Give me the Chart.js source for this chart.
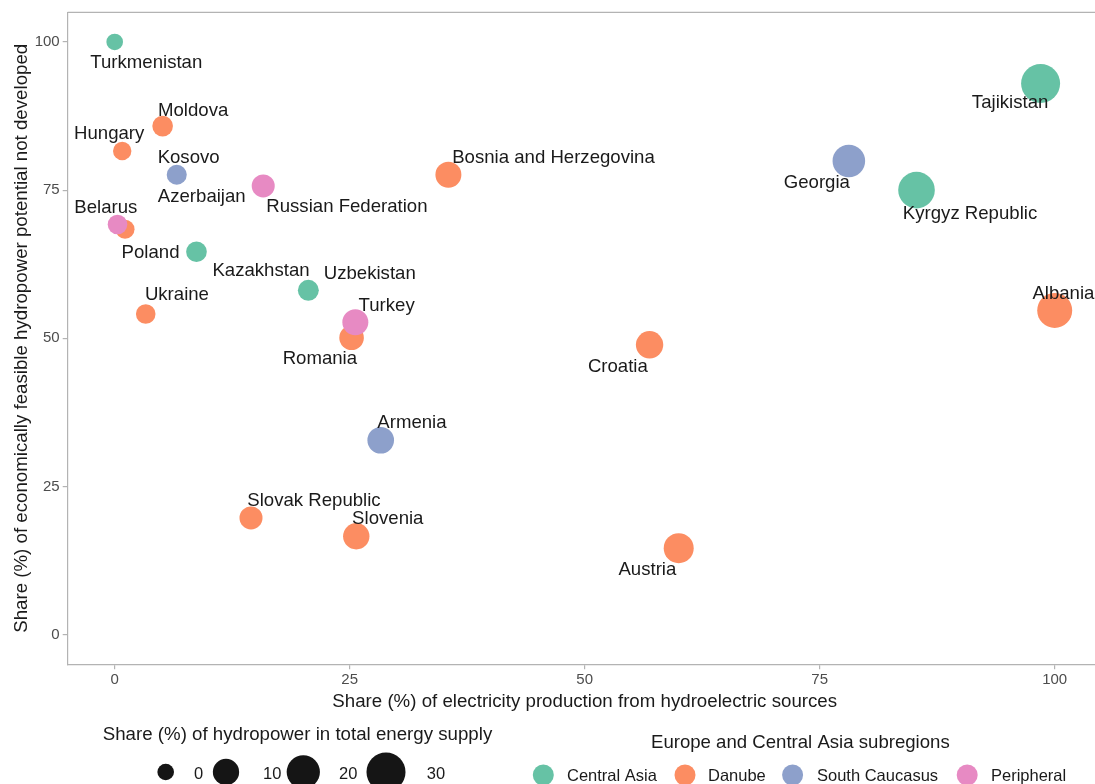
<!DOCTYPE html>
<html>
<head>
<meta charset="utf-8">
<script src="https://cdn.jsdelivr.net/npm/chart.js@4"></script>
<style>
  html, body { margin: 0; padding: 0; overflow: hidden; background: #fff; }
  #wrap { position: relative; width: 1105px; height: 784px; }
</style>
</head>
<body>
<div id="wrap"><canvas id="hydro"></canvas></div>
<script>
// data
const countries = ['Turkmenistan', 'Moldova', 'Hungary', 'Kosovo', 'Azerbaijan', 'Russian Federation',
  'Bosnia and Herzegovina', 'Poland', 'Belarus', 'Kazakhstan', 'Uzbekistan', 'Ukraine', 'Romania',
  'Turkey', 'Croatia', 'Albania', 'Armenia', 'Slovak Republic', 'Slovenia', 'Austria', 'Tajikistan',
  'Georgia', 'Kyrgyz Republic'];
const regions = ['Central Asia', 'Danube', 'Danube', 'Danube', 'South Caucasus', 'Peripheral',
  'Danube', 'Danube', 'Peripheral', 'Central Asia', 'Central Asia', 'Danube', 'Danube',
  'Peripheral', 'Danube', 'Danube', 'South Caucasus', 'Danube', 'Danube', 'Danube', 'Central Asia',
  'South Caucasus', 'Central Asia'];
// x: share of electricity production from hydro
const elecFromHydro = [0.0, 5.1, 0.8, 6.6, 6.6, 15.8, 35.5, 1.1, 0.3, 8.7, 20.6, 3.3, 25.2,
  25.6, 56.9, 100.0, 28.3, 14.5, 25.7, 60.0, 98.5, 78.1, 85.3];
// y: share of economically feasible potential not developed
const notDeveloped = [100.0, 85.8, 81.6, 77.6, 77.6, 75.7, 77.6, 68.4, 69.2, 64.6, 58.1, 54.1, 50.1,
  52.7, 48.9, 54.7, 32.8, 19.7, 16.6, 14.6, 93.0, 79.9, 75.0];
// size: share of hydropower in total energy supply (Kosovo has no value)
const supplyShare = [0, 3.6, 1.5, null, 3.0, 6.1, 9.6, 2.0, 2.6, 3.6, 3.9, 2.6, 7.9,
  9.6, 11.4, 22.8, 10.4, 6.1, 10.1, 15.0, 29.9, 18.9, 25.6];

const regionNames = ['Central Asia', 'Danube', 'South Caucasus', 'Peripheral'];
const regionColors = ['#66c2a5', '#fc8d62', '#8da0cb', '#e78ac3'];
const axisTicks = [0, 25, 50, 75, 100];
const sizeBreaks = [0, 10, 20, 30];

// label placement (pixels from the point, text centre)
const labelOffsets = {
  'Turkmenistan': [31.6, 19.4], 'Moldova': [30.5, -17.3], 'Hungary': [-13, -18.2],
  'Kosovo': [11.9, -18.8], 'Azerbaijan': [25, 20.4], 'Russian Federation': [83.7, 19.7],
  'Bosnia and Herzegovina': [105.1, -18.9], 'Poland': [25.5, 22.3], 'Belarus': [-11.7, -18.3],
  'Kazakhstan': [64.5, 18], 'Uzbekistan': [61.4, -17.8], 'Ukraine': [31.2, -20.6],
  'Romania': [-31.7, 19.5], 'Turkey': [31.3, -18.1], 'Croatia': [-31.7, 20.6],
  'Albania': [8.7, -18.3], 'Armenia': [31.2, -19], 'Slovak Republic': [63, -18.8],
  'Slovenia': [31.5, -19.3], 'Austria': [-31.3, 20.3], 'Tajikistan': [-30.5, 18.2],
  'Georgia': [-32, 20.3], 'Kyrgyz Republic': [53.5, 21.7]
};

const FONT = '"Liberation Sans", Arial, sans-serif';
const INK = '#1a1a1a';
const GRID = '#b3b3b3';

// area scale for bubbles
const sizeToRadius = (s) => (s === null ? 0 : Math.sqrt(69 + 10.4 * s));
const colorOf = (r) => regionColors[regionNames.indexOf(r)];

const points = countries.map((c, i) => ({
  x: elecFromHydro[i],
  y: notDeveloped[i],
  r: sizeToRadius(supplyShare[i])
}));

const extras = {
  id: 'extras',
  afterDatasetsDraw(chart) {
    const ctx = chart.ctx;
    const area = chart.chartArea;
    const meta = chart.getDatasetMeta(0);
    ctx.save();

    // remaining panel border
    ctx.strokeStyle = GRID;
    ctx.lineWidth = 1.2;
    ctx.beginPath();
    ctx.moveTo(area.left, area.top);
    ctx.lineTo(area.right, area.top);
    ctx.lineTo(area.right, area.bottom);
    ctx.stroke();

    // country labels
    ctx.font = '18.6px ' + FONT;
    ctx.fillStyle = INK;
    ctx.textAlign = 'center';
    ctx.textBaseline = 'alphabetic';
    countries.forEach((name, i) => {
      const el = meta.data[i];
      const off = labelOffsets[name];
      ctx.fillText(name, el.x + off[0], el.y + off[1] + 6.7);
    });

    // axis titles
    ctx.font = '18.7px ' + FONT;
    ctx.fillText('Share (%) of electricity production from hydroelectric sources',
      (area.left + area.right) / 2, 706.7);
    ctx.save();
    ctx.translate(26.7, (area.top + area.bottom) / 2);
    ctx.rotate(-Math.PI / 2);
    ctx.fillText('Share (%) of economically feasible hydropower potential not developed', 0, 0);
    ctx.restore();

    // size legend
    ctx.fillText('Share (%) of hydropower in total energy supply', 297.5, 740);
    const sizeKeyX = [165.7, 226, 303.3, 386];
    const sizeLabelX = [194, 263, 339, 426.7];
    ctx.textAlign = 'left';
    sizeBreaks.forEach((b, i) => {
      ctx.fillStyle = '#151515';
      ctx.beginPath();
      ctx.arc(sizeKeyX[i], 772, sizeToRadius(b), 0, Math.PI * 2);
      ctx.fill();
      ctx.fillStyle = INK;
      ctx.font = '16.5px ' + FONT;
      ctx.fillText(String(b), sizeLabelX[i], 779.3);
    });

    // region legend
    ctx.font = '18.6px ' + FONT;
    ctx.fillText('Europe and Central Asia subregions', 651, 747.7);
    const regKeyX = [543.3, 685, 792.6, 967.2];
    const regLabelX = [567, 708, 817, 991];
    regionNames.forEach((r, i) => {
      ctx.fillStyle = regionColors[i];
      ctx.beginPath();
      ctx.arc(regKeyX[i], 775, 10.5, 0, Math.PI * 2);
      ctx.fill();
      ctx.fillStyle = INK;
      ctx.font = '16.5px ' + FONT;
      ctx.fillText(r, regLabelX[i], 780.7);
    });

    ctx.restore();
  }
};

const noPad = (scale) => {
  scale.paddingTop = 0;
  scale.paddingBottom = 0;
  scale.paddingLeft = 0;
  scale.paddingRight = 0;
};

const axisCommon = {
  type: 'linear',
  min: -5,
  max: 105,
  afterBuildTicks: (scale) => { scale.ticks = axisTicks.map((v) => ({ value: v })); },
  grid: { drawOnChartArea: false, drawTicks: true, tickLength: 5, color: GRID, lineWidth: 1.2 },
  border: { display: true, color: GRID, width: 1.2 },
  title: { display: false }
};

new Chart(document.getElementById('hydro'), {
  type: 'bubble',
  data: {
    datasets: [{
      data: points,
      backgroundColor: regions.map(colorOf),
      borderWidth: 0,
      hoverBorderWidth: 0
    }]
  },
  options: {
    responsive: true,
    maintainAspectRatio: false,
    devicePixelRatio: 1,
    animation: false,
    events: [],
    layout: { autoPadding: false, padding: { top: 12.3, right: 3.3, left: 0, bottom: 0 } },
    plugins: { legend: { display: false }, tooltip: { enabled: false } },
    scales: {
      x: Object.assign({}, axisCommon, {
        position: 'bottom',
        ticks: { color: '#4d4d4d', font: { family: FONT, size: 15 }, padding: 2, maxRotation: 0 },
        afterFit: (scale) => { scale.height = 119.7; noPad(scale); }
      }),
      y: Object.assign({}, axisCommon, {
        position: 'left',
        ticks: { color: '#4d4d4d', font: { family: FONT, size: 15 }, padding: 3 },
        afterFit: (scale) => { scale.width = 67.7; noPad(scale); }
      })
    }
  },
  plugins: [extras]
});
</script>
</body>
</html>
